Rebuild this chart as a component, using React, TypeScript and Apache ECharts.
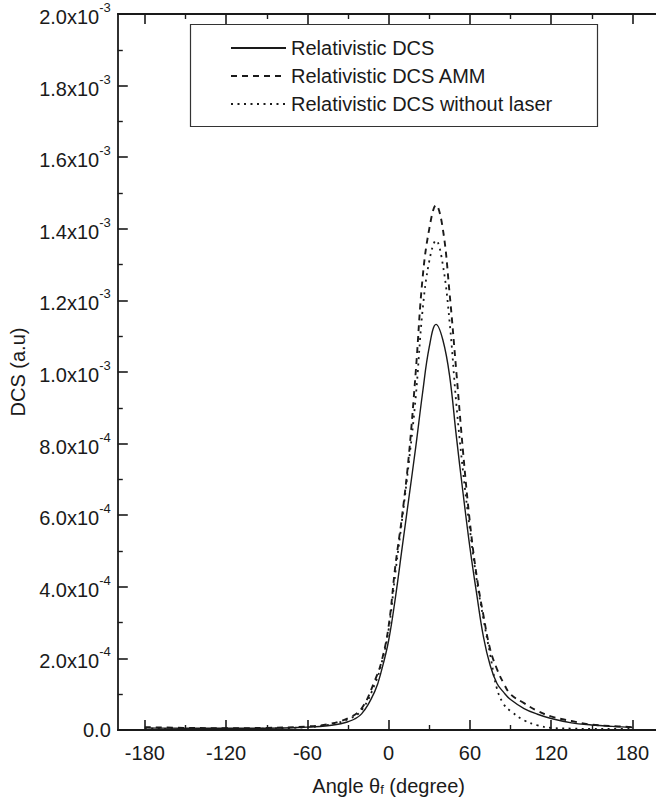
import React, { useEffect, useRef } from "react";
import * as echarts from "echarts";

// Scattering angle theta_f (degree)
const angles = [
  -180, -150, -120, -90, -60, -45, -30, -20, -10, -5, 0, 5, 10, 15, 20, 25, 30, 35,
  40, 45, 50, 55, 60, 65, 70, 75, 80, 85, 90, 100, 110, 120, 135, 150, 165, 180,
];

// Relativistic DCS (solid)
const dcsRelativistic = [
  0.006e-3, 0.005e-3, 0.005e-3, 0.005e-3, 0.008e-3, 0.012e-3, 0.023e-3, 0.045e-3, 0.11e-3, 0.17e-3,
  0.25e-3, 0.37e-3, 0.51e-3, 0.65e-3, 0.79e-3, 0.94e-3, 1.07e-3, 1.133e-3,
  1.09e-3, 0.99e-3, 0.82e-3, 0.66e-3, 0.51e-3, 0.38e-3, 0.26e-3, 0.18e-3, 0.13e-3, 0.105e-3,
  0.085e-3, 0.06e-3, 0.044e-3, 0.032e-3, 0.02e-3, 0.014e-3, 0.01e-3, 0.007e-3,
];

// Relativistic DCS AMM (dashed)
const dcsAmm = [
  0.008e-3, 0.006e-3, 0.005e-3, 0.006e-3, 0.01e-3, 0.016e-3, 0.033e-3, 0.06e-3, 0.14e-3, 0.195e-3,
  0.29e-3, 0.46e-3, 0.6e-3, 0.77e-3, 1.0e-3, 1.26e-3, 1.4e-3, 1.466e-3,
  1.4e-3, 1.22e-3, 1.0e-3, 0.775e-3, 0.58e-3, 0.43e-3, 0.32e-3, 0.225e-3, 0.17e-3, 0.13e-3,
  0.1e-3, 0.075e-3, 0.053e-3, 0.038e-3, 0.025e-3, 0.015e-3, 0.011e-3, 0.008e-3,
];

// Relativistic DCS without laser (dotted)
const dcsNoLaser = [
  0.004e-3, 0.003e-3, 0.003e-3, 0.004e-3, 0.008e-3, 0.014e-3, 0.03e-3, 0.055e-3, 0.13e-3, 0.19e-3,
  0.28e-3, 0.44e-3, 0.59e-3, 0.75e-3, 0.93e-3, 1.17e-3, 1.31e-3, 1.367e-3,
  1.3e-3, 1.14e-3, 0.91e-3, 0.72e-3, 0.56e-3, 0.42e-3, 0.31e-3, 0.21e-3, 0.115e-3, 0.072e-3,
  0.053e-3, 0.027e-3, 0.013e-3, 0.006e-3, 0.004e-3, 0.003e-3, 0.003e-3, 0.003e-3,
];

const seriesNames = [
  "Relativistic DCS",
  "Relativistic DCS AMM",
  "Relativistic DCS without laser",
];

const xMajorTicks = [-180, -120, -60, 0, 60, 120, 180];
const xMinorTicks = [-150, -90, -30, 30, 90, 150];

const FONT = "Liberation Sans, Arial, Helvetica, sans-serif";
const INK = "#1a1a1a";

function formatY(v: number): string {
  if (Math.abs(v) < 1e-12) return "{b|0.0}";
  const e = Math.floor(Math.log10(v) + 1e-9);
  const m = v / Math.pow(10, e);
  return `{h| }{b|${m.toFixed(1)}x10}{s|${e}}`;
}

function pairs(ys: number[]) {
  return angles.map((a, i) => [a, ys[i]]);
}

export default function App() {
  const ref = useRef<HTMLDivElement>(null);

  useEffect(() => {
    if (!ref.current) return;
    const chart = echarts.init(ref.current, null, { renderer: "svg" });

    const baseX = {
      type: "value" as const,
      min: -200,
      max: 200,
      splitLine: { show: false },
    };

    chart.setOption({
      animation: false,
      backgroundColor: "#ffffff",
      textStyle: { fontFamily: FONT, color: INK },
      grid: { left: 117, right: 20.5, top: 14, bottom: 76 },
      legend: {
        orient: "vertical",
        left: 230,
        top: 38,
        itemWidth: 55,
        itemHeight: 14,
        itemGap: 8,
        padding: 0,
        data: seriesNames,
        itemStyle: { opacity: 0, borderWidth: 0 },
        textStyle: { fontFamily: FONT, fontSize: 20, color: INK },
      },
      graphic: [
        {
          type: "rect",
          shape: { x: 190.5, y: 24.5, width: 407, height: 102 },
          style: { fill: "none", stroke: "#333", lineWidth: 1.2 },
          z: 10,
        },
      ],
      xAxis: [
        {
          ...baseX,
          position: "bottom",
          name: "Angle θ{sub|f} (degree)",
          nameLocation: "middle",
          nameGap: 45,
          nameTextStyle: {
            fontFamily: FONT,
            fontSize: 20,
            color: INK,
            rich: {
              sub: { fontSize: 13, verticalAlign: "bottom", padding: [8, 0, 0, 0], fontFamily: FONT, color: INK },
            },
          },
          axisLine: { show: true, onZero: false, lineStyle: { color: INK, width: 1.8 } },
          axisTick: { show: true, inside: true, length: 10, customValues: xMajorTicks, lineStyle: { color: INK, width: 1.6 } },
          axisLabel: { show: true, customValues: xMajorTicks, margin: 13, fontSize: 20, fontFamily: FONT, color: INK },
        },
        {
          ...baseX,
          position: "bottom",
          axisLine: { show: false },
          axisTick: { show: true, inside: true, length: 5, customValues: xMinorTicks, lineStyle: { color: INK, width: 1.4 } },
          axisLabel: { show: false },
        },
        {
          ...baseX,
          position: "top",
          axisLine: { show: true, onZero: false, lineStyle: { color: INK, width: 1.8 } },
          axisTick: { show: true, inside: true, length: 10, customValues: xMajorTicks, lineStyle: { color: INK, width: 1.6 } },
          axisLabel: { show: false },
        },
        {
          ...baseX,
          position: "top",
          axisLine: { show: false },
          axisTick: { show: true, inside: true, length: 5, customValues: xMinorTicks, lineStyle: { color: INK, width: 1.4 } },
          axisLabel: { show: false },
        },
      ],
      yAxis: [
        {
          type: "value",
          min: 0,
          max: 0.002,
          interval: 0.0002,
          position: "left",
          name: "DCS (a.u)",
          nameLocation: "middle",
          nameGap: 85,
          nameTextStyle: { fontFamily: FONT, fontSize: 20, color: INK },
          splitLine: { show: false },
          axisLine: { show: true, onZero: false, lineStyle: { color: INK, width: 1.8 } },
          axisTick: { show: true, inside: true, length: 10, lineStyle: { color: INK, width: 1.6 } },
          minorTick: { show: true, splitNumber: 2, length: 5, lineStyle: { color: INK, width: 1.4 } },
          axisLabel: {
            margin: 7,
            formatter: formatY,
            rich: {
              h: { fontSize: 1, lineHeight: 26, width: 0, fontFamily: FONT, color: "rgba(0,0,0,0)" },
              b: { fontSize: 20, lineHeight: 20, verticalAlign: "bottom", fontFamily: FONT, color: INK },
              s: { fontSize: 13, lineHeight: 13, verticalAlign: "top", fontFamily: FONT, color: INK },
            },
          },
        },
      ],
      series: [
        {
          name: seriesNames[0],
          type: "line",
          xAxisIndex: 0,
          data: pairs(dcsRelativistic),
          smooth: 0.4,
          symbol: "none",
          lineStyle: { color: INK, width: 1.4, type: "solid" },
          itemStyle: { color: INK },
        },
        {
          name: seriesNames[1],
          type: "line",
          xAxisIndex: 0,
          data: pairs(dcsAmm),
          smooth: 0.4,
          symbol: "none",
          lineStyle: { color: INK, width: 1.9, type: [6, 5] },
          itemStyle: { color: INK },
        },
        {
          name: seriesNames[2],
          type: "line",
          xAxisIndex: 0,
          data: pairs(dcsNoLaser),
          smooth: 0.4,
          symbol: "none",
          lineStyle: { color: INK, width: 1.8, type: [2, 4.5] },
          itemStyle: { color: INK },
        },
      ],
    });

    return () => chart.dispose();
  }, []);

  return (
    <div style={{ position: "fixed", left: 0, top: 0, width: 656, height: 806, overflow: "hidden", background: "#fff" }}>
      <div ref={ref} style={{ width: 680, height: 806 }} />
    </div>
  );
}
